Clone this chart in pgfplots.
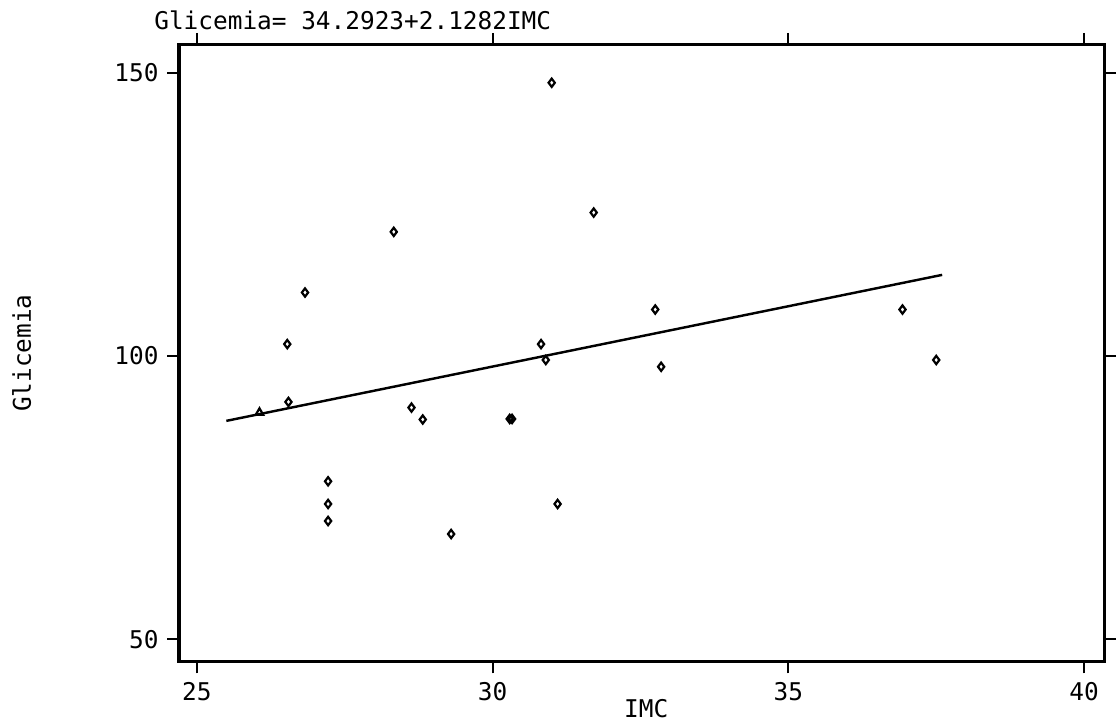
\documentclass[border=0pt]{standalone}
\usepackage{pgfplots}
\pgfplotsset{compat=1.18}
\usepackage{fontspec}
\setmainfont{DejaVu Sans Mono}
\begin{document}
\begin{tikzpicture}
\begin{axis}[
    scale only axis,
    width=13.32cm, height=8.88cm,
    xmin=24.70, xmax=40.34,
    ymin=46.1, ymax=154.9,
    xtick={25,30,35,40},
    ytick={50,100,150},
    tick align=outside,
    major tick length=0.17cm,
    tick style={black, line width=0.8pt},
    axis line style={line width=1.3pt},
    every tick label/.append style={font=\fontsize{10}{12}\selectfont},
    /pgf/number format/assume math mode=true,
    xlabel={IMC},
    ylabel={Glicemia},
    every axis x label/.style={at={(rel axis cs:0.505,-0.076)},anchor=center,font=\fontsize{10}{12}\selectfont},
    every axis y label/.style={at={(rel axis cs:-0.17,0.5)},rotate=90,anchor=center,font=\fontsize{10}{12}\selectfont},
    clip=false,
]
% Observed points
\addplot[only marks, mark=diamond, mark size=1.7pt, mark options={line width=0.9pt}] coordinates {
    (31.00,148.2) (31.71,125.3) (28.33,121.9) (26.83,111.2)
    (26.53,102.1) (26.55,91.9) (28.63,90.9) (28.82,88.8)
    (27.22,77.9) (27.22,73.9) (27.22,70.9) (29.30,68.6)
    (30.29,88.9) (30.33,88.9) (30.82,102.1) (30.90,99.3)
    (31.10,73.9) (32.75,108.2) (32.85,98.1) (36.93,108.2)
    (37.50,99.3)
};
\addplot[only marks, mark=triangle, mark size=1.8pt, mark options={line width=0.9pt}] coordinates {
    (26.06,90.0)
};
% Fitted line
\addplot[black, line width=1pt] coordinates {(25.5,88.56) (37.6,114.31)};
\node[anchor=west, font=\fontsize{10}{12}\selectfont] at (rel axis cs:-0.036,1.040) {Glicemia= 34.2923+2.1282IMC};
\path (rel axis cs:-0.1935,-0.0984) rectangle (rel axis cs:1.0075,1.0726);
\end{axis}
\end{tikzpicture}
\end{document}
